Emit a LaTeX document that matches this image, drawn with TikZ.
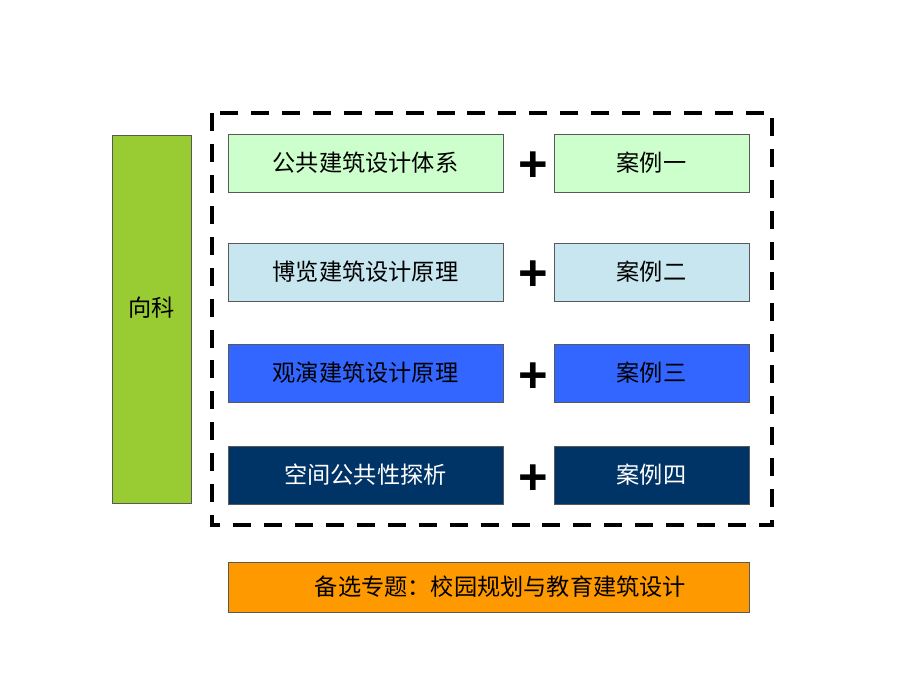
\documentclass[tikz,border=0pt]{standalone}
\usepackage{fontspec}
\setmainfont{Noto Sans CJK SC}
\newfontfamily\plusfont{Liberation Sans}
\usetikzlibrary{calc}
\definecolor{kgreen}{HTML}{99CC33}
\definecolor{rowa}{HTML}{CCFFCC}
\definecolor{rowb}{HTML}{C8E6F0}
\definecolor{rowc}{HTML}{3366FF}
\definecolor{rowd}{HTML}{003366}
\definecolor{topic}{HTML}{FF9900}
\tikzset{l/.style={font=\fontsize{16.5}{16.5}\selectfont}}
\tikzset{bx/.style={draw=black!65,line width=0.6pt,inner sep=0pt,outer sep=0pt,l}}
\tikzset{wide/.style={bx,minimum width=6.875cm,minimum height=1.45cm}}
\tikzset{short/.style={bx,minimum width=4.875cm,minimum height=1.45cm}}
\tikzset{plus/.style={font=\plusfont\fontsize{36}{36}\selectfont\bfseries,inner sep=0pt}}

\begin{document}
\begin{tikzpicture}[x=0.025cm,y=-0.025cm]
          \useasboundingbox (0,0) rectangle (920,690);
          % left bar
          \node[bx,fill=kgreen,minimum width=1.975cm,minimum height=9.2cm,
            label={[l,yshift=7.8pt]center:向科}] (xk) at (151.5,319) {};
          % dashed frame
          \draw[line width=2.8pt,dash pattern=on 12.8pt off 9.2pt] (212,113) rectangle (772,525);
          % rows
          \node[wide,fill=rowa] (gj) at (365.5,163) {公共建筑设计体系};
          \node[plus] (p1) at (533,167) {+};
          \node[short,fill=rowa] (al1) at (651.5,163) {案例一};
          \node[wide,fill=rowb] (bl) at (365.5,272) {博览建筑设计原理};
          \node[plus] (p2) at (533,276) {+};
          \node[short,fill=rowb] (al2) at (651.5,272) {案例二};
          \node[wide,fill=rowc] (gy) at (365.5,373) {观演建筑设计原理};
          \node[plus] (p3) at (533,378) {+};
          \node[short,fill=rowc] (al3) at (651.5,373) {案例三};
          \node[wide,fill=rowd,text=white] (kj) at (365.5,475) {空间公共性探析};
          \node[plus] (p4) at (533,480) {+};
          \node[short,fill=rowd,text=white] (al4) at (651.5,475) {案例四};
          % optional topic
          \node[bx,fill=topic,minimum width=13.025cm,minimum height=1.25cm,
            label={[l,xshift=8.5pt]center:备选专题：校园规划与教育建筑设计}] (bx) at (488.5,587) {};
        \end{tikzpicture}
\end{document}
